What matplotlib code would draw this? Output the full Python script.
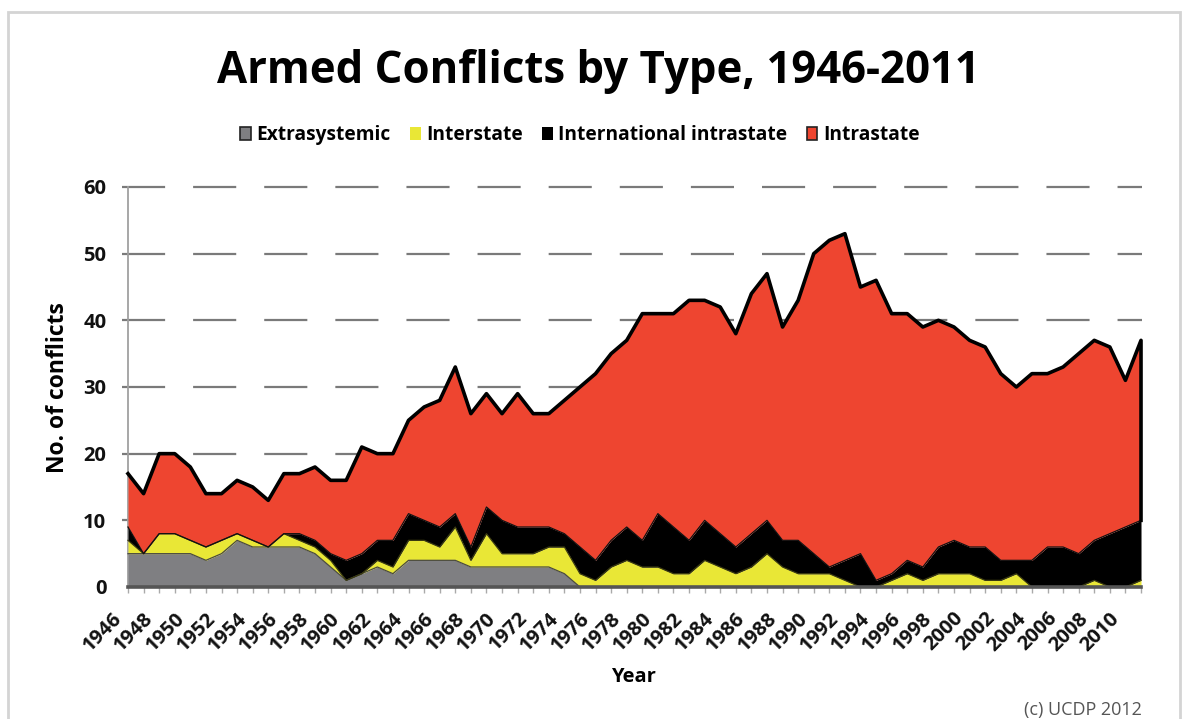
import numpy as np
import matplotlib
matplotlib.use("Agg")
import matplotlib.pyplot as plt
from matplotlib.patches import Patch, Rectangle
from matplotlib.transforms import ScaledTranslation

plt.rcParams['font.family'] = ['Open Sans', 'DejaVu Sans']

years = list(range(1946, 2012))

extrasystemic = [5, 5, 5, 5, 5, 4, 5, 7, 6, 6,
                 6, 6, 5, 3, 1, 2, 3, 2, 4, 4,
                 4, 4, 3, 3, 3, 3, 3, 3, 2, 0,
                 0, 0, 0, 0, 0, 0, 0, 0, 0, 0,
                 0, 0, 0, 0, 0, 0, 0, 0, 0, 0,
                 0, 0, 0, 0, 0, 0, 0, 0, 0, 0,
                 0, 0, 0, 0, 0, 0]
interstate = [2, 0, 3, 3, 2, 2, 2, 1, 1, 0,
              2, 1, 1, 1, 0, 0, 1, 1, 3, 3,
              2, 5, 1, 5, 2, 2, 2, 3, 4, 2,
              1, 3, 4, 3, 3, 2, 2, 4, 3, 2,
              3, 5, 3, 2, 2, 2, 1, 0, 0, 1,
              2, 1, 2, 2, 2, 1, 1, 2, 0, 0,
              0, 0, 1, 0, 0, 1]
international_intrastate = [2, 0, 0, 0, 0, 0, 0, 0, 0, 0,
                            0, 1, 1, 1, 3, 3, 3, 4, 4, 3,
                            3, 2, 2, 4, 5, 4, 4, 3, 2, 4,
                            3, 4, 5, 4, 8, 7, 5, 6, 5, 4,
                            5, 5, 4, 5, 3, 1, 3, 5, 1, 1,
                            2, 2, 4, 5, 4, 5, 3, 2, 4, 6,
                            6, 5, 6, 8, 9, 9]
intrastate = [8, 9, 12, 12, 11, 8, 7, 8, 8, 7,
              9, 9, 11, 11, 12, 16, 13, 13, 14, 17,
              19, 22, 20, 17, 16, 20, 17, 17, 20, 24,
              28, 28, 28, 34, 30, 32, 36, 33, 34, 32,
              36, 37, 32, 36, 45, 49, 49, 40, 45, 39,
              37, 36, 34, 32, 31, 30, 28, 26, 28, 26,
              27, 30, 30, 28, 22, 27]

series_names = ['Extrasystemic', 'Interstate', 'International intrastate', 'Intrastate']
y_ticks = [0, 10, 20, 30, 40, 50, 60]
x_tick_years = list(range(1946, 2011, 2))

GRAY = '#7f7f82'
YELLOW = '#e9e736'
BLACK = '#000000'
RED = '#ee4530'

W, H = 1184, 719
fig = plt.figure(figsize=(W / 100, H / 100), dpi=100)
fig.patch.set_facecolor('white')

# light frame
fig.patches.append(Rectangle((8 / W, -0.02), (1180 - 8) / W, (H - 12) / H + 0.02,
                             transform=fig.transFigure, fill=False,
                             edgecolor='#d4d4d4', lw=2, zorder=0))

ax = fig.add_axes([116 / W, 1 - 587 / H, (1158 - 116) / W, (587 - 187) / H])
ax.set_xlim(1945.23, 2012.09)
ax.set_ylim(0, 60)
for s in ax.spines.values():
    s.set_visible(False)
ax.patch.set_alpha(0)

x = np.array(years)
c1 = np.array(extrasystemic)
c2 = c1 + np.array(interstate)
c3 = c2 + np.array(international_intrastate)
c4 = c3 + np.array(intrastate)

# grid
for v in y_ticks[1:]:
    ax.plot([1945.6, 2011.06], [v, v], color='#7a7a7a', lw=1.6,
            dashes=(19.4, 12.6), clip_on=False, zorder=1,
            dash_capstyle='butt')

ax.fill_between(x, 0, c1, color=GRAY, lw=0, zorder=2)
ax.fill_between(x, c1, c2, color=YELLOW, lw=0, zorder=2)
ax.fill_between(x, c2, c3, color=BLACK, lw=0, zorder=2)
ax.fill_between(x, c3, c4, color=RED, lw=0, zorder=2)

ax.plot(x, c1, color='#4a4a40', lw=0.9, zorder=3)
ax.plot(x, c2, color='#3a3a10', lw=0.9, zorder=3)
ax.plot(x, c3, color='#111111', lw=0.9, zorder=3)
ax.plot(list(x) + [x[-1]], list(c4) + [c3[-1]], color='black', lw=2.6,
        zorder=4, solid_joinstyle='round')

# axis lines
ax.plot([1946, 1946], [0, 60], color='#a0a0a0', lw=1.3, zorder=1.5, clip_on=False)
ax.plot([1946, 2011], [0, 0], color='#555555', lw=2.6, zorder=5, clip_on=False)

ax.set_xticks(x_tick_years)
ax.set_xticks(years, minor=True)
ax.tick_params(axis='x', which='both', length=4, width=1, color='#aaaaaa',
               direction='out', pad=10)
ax.set_xticklabels([str(y) for y in x_tick_years], rotation=45,
                   ha='right', va='center', rotation_mode='anchor',
                   fontsize=14.5, fontweight='bold', color='#111111')
shift = ScaledTranslation(-9 / 100, -9 / 100, fig.dpi_scale_trans)
for lab in ax.get_xticklabels():
    lab.set_transform(lab.get_transform() + shift)
ax.set_yticks(y_ticks)
ax.set_yticklabels([str(v) for v in y_ticks], fontsize=14.5, fontweight='bold',
                   color='#111111')
ax.tick_params(axis='y', length=0, pad=7)

fig.text(598 / W, 1 - 83 / H, 'Armed Conflicts by Type, 1946-2011',
         ha='center', va='baseline', fontsize=31.5, fontweight='bold')
fig.text(633 / W, 1 - 677 / H, 'Year', ha='center', va='center',
         fontsize=14.5, fontweight='bold')
fig.text(58 / W, 1 - 388 / H, 'No. of conflicts', ha='center', va='center',
         rotation=90, fontsize=16.5, fontweight='bold')
fig.text(1142 / W, 1 - 710 / H, '(c) UCDP 2012', ha='right', va='center',
         fontsize=13, color='#555555')

handles = [Patch(facecolor=GRAY, edgecolor='#222222', lw=1.2),
           Patch(facecolor=YELLOW, edgecolor=YELLOW, lw=0),
           Patch(facecolor=BLACK, edgecolor=BLACK, lw=0),
           Patch(facecolor=RED, edgecolor='#222222', lw=1.2)]
leg = fig.legend(handles, series_names, loc='center', ncol=4,
                 bbox_to_anchor=(580 / W, 1 - 135 / H), frameon=False,
                 handlelength=0.55, handleheight=0.7, handletextpad=0.3,
                 columnspacing=1.0, prop={'weight': 'bold', 'size': 13.8})

fig.savefig('out.png', dpi=100)
